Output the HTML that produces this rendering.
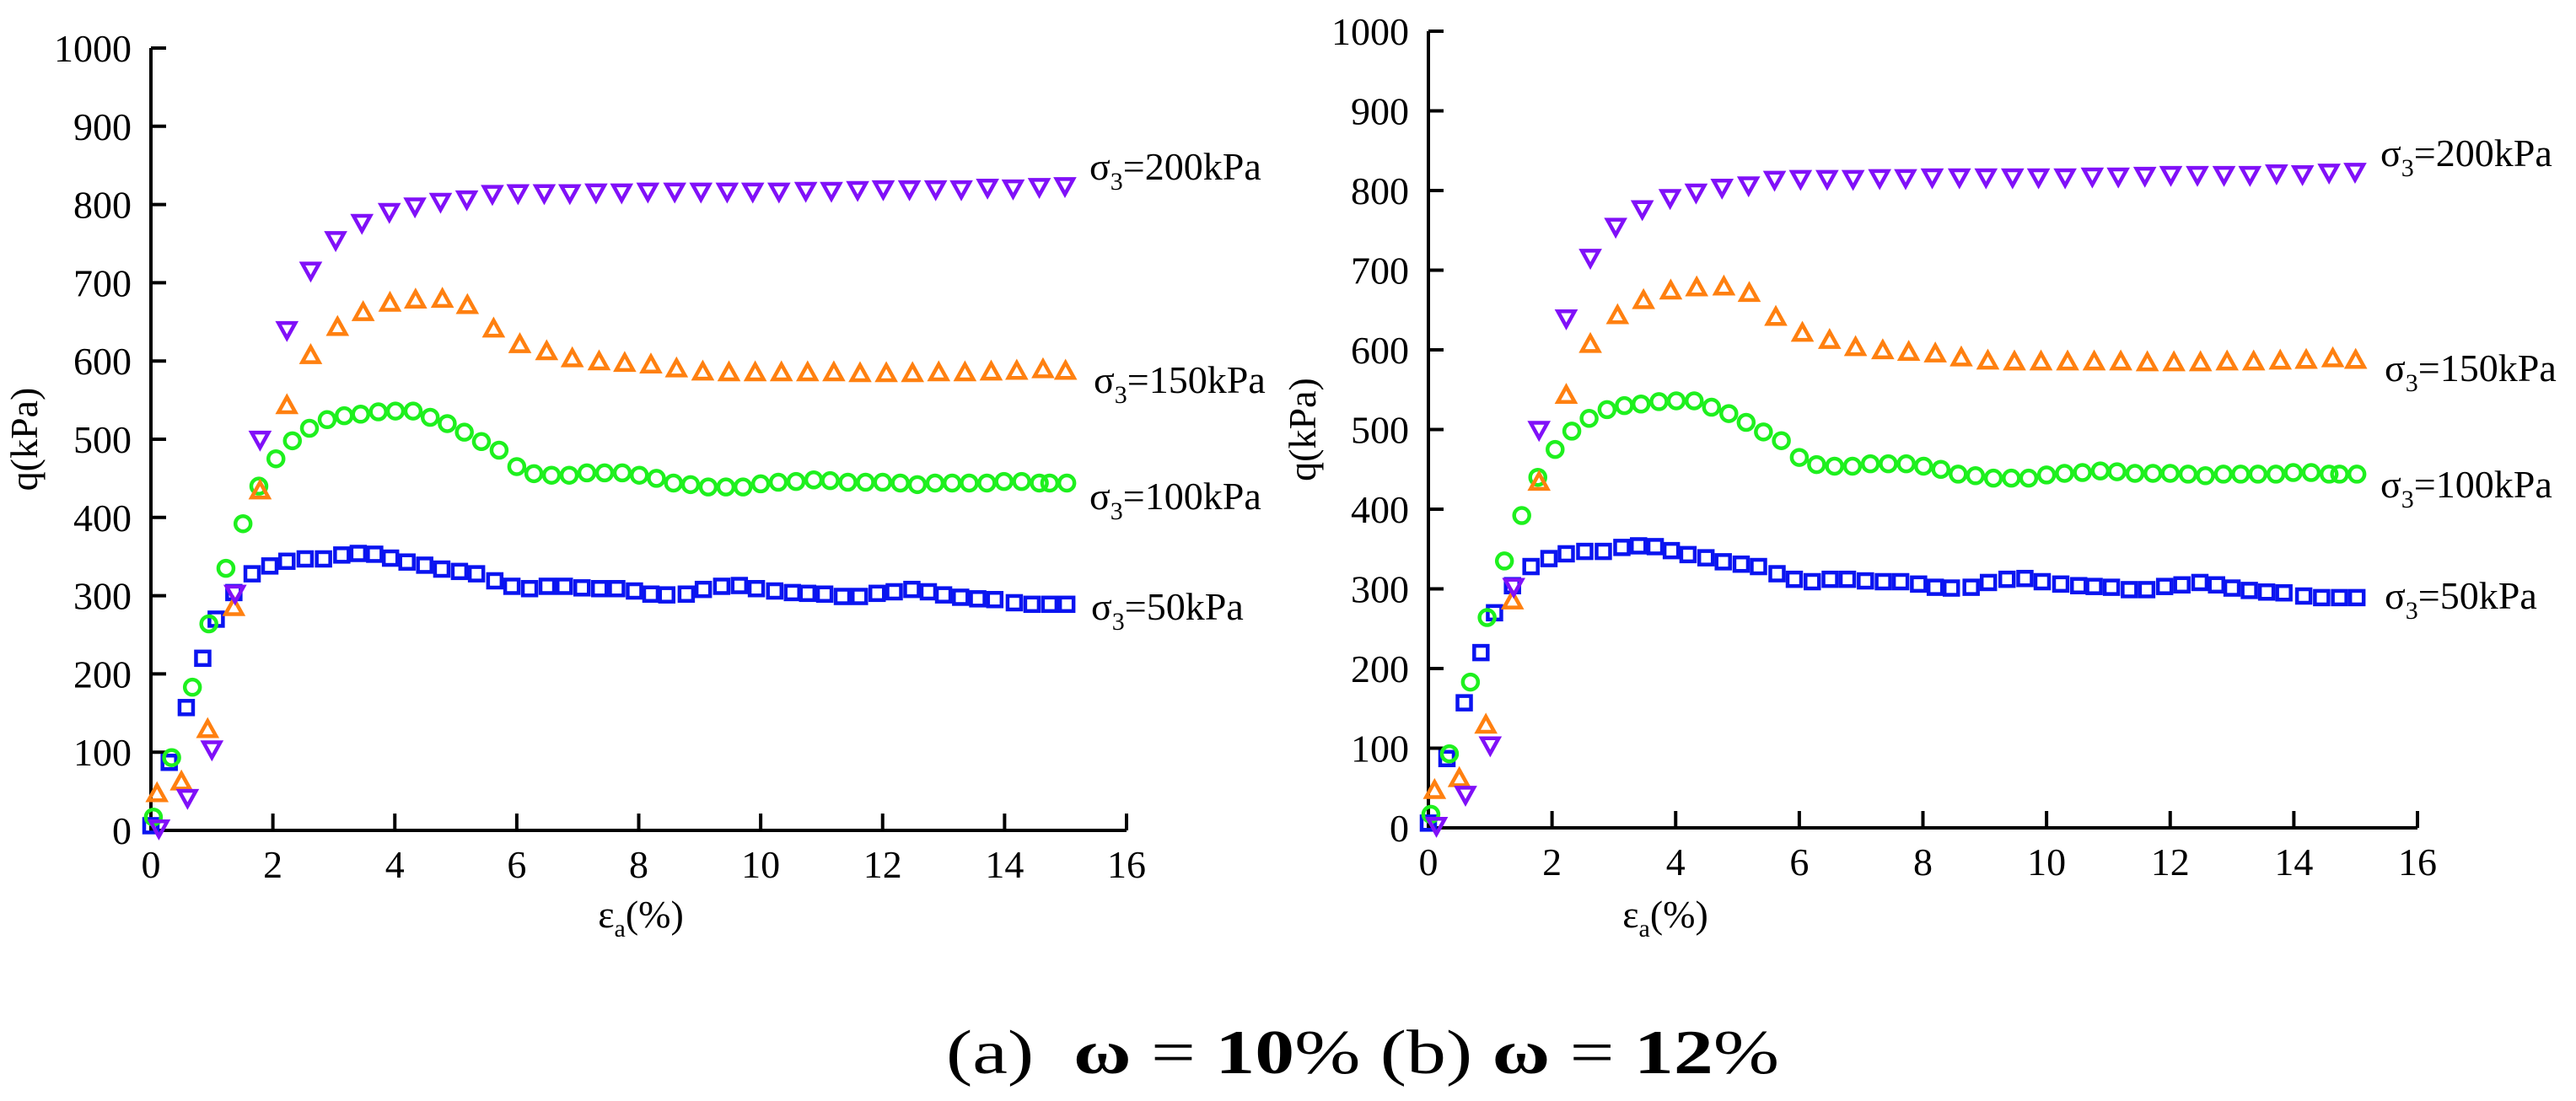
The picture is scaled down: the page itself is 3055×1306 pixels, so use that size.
<!DOCTYPE html>
<html><head><meta charset="utf-8"><style>
html,body{margin:0;padding:0;background:#fff;}
svg{display:block;font-family:"Liberation Serif",serif;}
</style></head><body>
<svg id="fig" width="3055" height="1306" viewBox="0 0 3055 1306">
<text x="1122" y="1273" font-size="74" textLength="988" lengthAdjust="spacingAndGlyphs">(a)&#160; <tspan font-weight="bold">ω</tspan> = <tspan font-weight="bold">10</tspan>%&#160;(b) <tspan font-weight="bold">ω</tspan> = <tspan font-weight="bold">12</tspan>%</text>
</svg>
<script>
const xTicks=[0,2,4,6,8,10,12,14,16];
const yTicks=[0,100,200,300,400,500,600,700,800,900,1000];
const x200=[0.13,0.6,1.0,1.38,1.79,2.23,2.62,3.03,3.46,3.91,4.33,4.75,5.18,5.6,6.02,6.45,6.87,7.3,7.72,8.15,8.59,9.02,9.45,9.87,10.3,10.74,11.16,11.59,12.01,12.44,12.87,13.29,13.72,14.14,14.57,14.99];
const y200=[4,43,105,304,501,641,717,756,778,792,799,805,808,815,816,816,816,817,817,818,818,818,818,818,818,819,819,820,821,821,821,821,823,822,824,825];
const x150=[0.1,0.5,0.93,1.36,1.79,2.23,2.62,3.06,3.48,3.92,4.34,4.78,5.19,5.62,6.05,6.49,6.91,7.35,7.77,8.2,8.62,9.05,9.48,9.91,10.34,10.77,11.2,11.63,12.06,12.49,12.92,13.35,13.78,14.2,14.63,15.0];
const y150=[46,61,128,284,433,542,606,642,661,673,677,678,670,640,620,611,602,598,596,594,589,585,584,584,584,584,584,583,583,583,584,584,585,586,588,586];
const x100=[0.04,0.34,0.68,0.95,1.23,1.51,1.77,2.05,2.32,2.6,2.89,3.17,3.44,3.73,4.01,4.3,4.58,4.86,5.14,5.42,5.71,6.0,6.28,6.57,6.86,7.15,7.44,7.73,8.01,8.29,8.57,8.85,9.14,9.43,9.71,10.0,10.29,10.58,10.87,11.14,11.43,11.72,12.0,12.29,12.57,12.86,13.14,13.42,13.71,13.99,14.28,14.57,14.74,15.02];
const y100=[17,93,183,264,335,392,440,475,498,514,525,530,532,535,536,536,528,520,509,497,486,465,456,454,454,457,457,457,454,450,444,442,439,439,439,443,445,446,448,447,445,445,445,444,442,444,444,444,444,446,446,444,444,444];
const x50=[0,0.3,0.58,0.85,1.07,1.36,1.66,1.95,2.23,2.53,2.83,3.13,3.4,3.67,3.93,4.2,4.49,4.77,5.06,5.34,5.64,5.92,6.21,6.5,6.78,7.07,7.36,7.64,7.93,8.2,8.46,8.78,9.06,9.36,9.65,9.93,10.23,10.52,10.77,11.05,11.34,11.62,11.91,12.19,12.48,12.75,13.0,13.28,13.56,13.84,14.16,14.45,14.74,15.02];
const y50=[6,87,157,220,270,304,328,338,344,347,347,352,354,353,348,343,339,334,331,328,319,312,309,312,312,310,309,309,306,302,301,302,308,312,313,309,306,304,303,302,299,299,303,305,308,305,301,298,296,295,291,289,289,289];

const NS='http://www.w3.org/2000/svg';
const svg=document.getElementById('fig');
function mk(tag,attrs,parent){const e=document.createElementNS(NS,tag);for(const k in attrs)e.setAttribute(k,attrs[k]);(parent||svg).appendChild(e);return e;}

function chart(id,ax0,ax1,ay0,ay1,titleX,titleY,qx,labels){
  const g=mk('g',{});
  
  
  const sx=v=>ax0+(ax1-ax0)*v/16;
  const sy=v=>ay0+(ay1-ay0)*v/1000;
  const axes=mk('path',{d:`M${ax0},${sy(1000)}V${ay0}H${ax1}`,fill:'none',stroke:'#000','stroke-width':4},g);
  
  
  yTicks.forEach(v=>{
    const t=mk('line',{x1:ax0,x2:ax0+18,y1:sy(v),y2:sy(v),stroke:'#000','stroke-width':4},g);
    
    
    const l=mk('text',{x:ax0-23,y:sy(v)+16,'text-anchor':'end','font-size':46},g);
    l.textContent=v;
    
    
  });
  xTicks.forEach(v=>{
    const t=mk('line',{x1:sx(v),x2:sx(v),y1:ay0,y2:ay0-20,stroke:'#000','stroke-width':4},g);
    
    
    const l=mk('text',{x:sx(v),y:ay0+56,'text-anchor':'middle','font-size':46},g);
    l.textContent=v;
    
    
  });
  const yt=mk('text',{x:0,y:0,'text-anchor':'middle','font-size':46,transform:`translate(${qx},${(ay0+sy(1000))/2}) rotate(-90)`},g);
  yt.textContent='q(kPa)';
  
  
  const xt=mk('text',{x:titleX,y:titleY,'text-anchor':'middle','font-size':46},g);
  xt.innerHTML='ε<tspan font-size="30" dy="11">a</tspan><tspan dy="-11">(%)</tspan>';
  
  
  const sw=4.5;
  function series(xs,ys,color,shape,name){
    const sg=mk('g',{fill:'none',stroke:color,'stroke-width':sw},g);
    
    
    xs.forEach((xv,i)=>{
      const px=sx(xv),py=sy(ys[i]);let m;
      if(shape==='sq')m=mk('rect',{x:px-8,y:py-8,width:16,height:16},sg);
      else if(shape==='ci')m=mk('circle',{cx:px,cy:py,r:9},sg);
      else if(shape==='up')m=mk('path',{d:`M${px},${py-11}L${px+10},${py+7}L${px-10},${py+7}Z`},sg);
      else m=mk('path',{d:`M${px},${py+11}L${px+10},${py-7}L${px-10},${py-7}Z`},sg);
      
      
    });
  }
  series(x50,y50,'#0a14f0','sq','series-50kpa');
  series(x100,y100,'#1ef01e','ci','series-100kpa');
  series(x150,y150,'#ff8010','up','series-150kpa');
  series(x200,y200,'#8010f8','dn','series-200kpa');
  labels.forEach(L=>{
    const t=mk('text',{x:L[0],y:L[1],'font-size':46},g);
    t.innerHTML='σ<tspan font-size="30" dy="12">3</tspan><tspan dy="-12">='+L[2]+'kPa</tspan>';
    
    
  });
}
chart('chart-a',179,1336,985,57,760,1100,44,[[1292,213,200],[1297,466,150],[1292,604,100],[1294,735,50]]);
chart('chart-b',1694,2867,982,37,1975,1100,1560,[[2823,197,200],[2828,452,150],[2823,590,100],[2828,722,50]]);
</script>
</body></html>
